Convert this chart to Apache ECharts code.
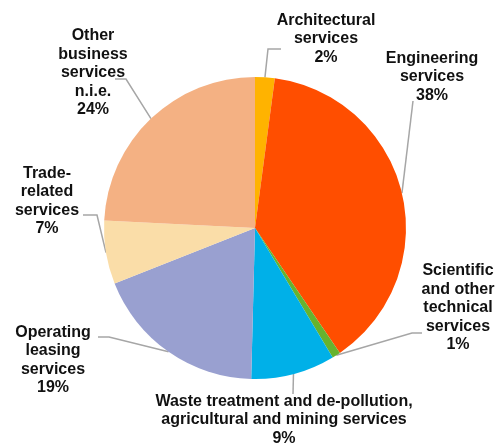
<!DOCTYPE html>
<html>
<head>
<meta charset="utf-8">
<script src="https://cdn.jsdelivr.net/npm/echarts@6/dist/echarts.min.js"></script>
<style>html,body{margin:0;padding:0;background:#fff}#c{width:501px;height:443px}</style>
</head>
<body>
<div id="c"></div>
<script>
const categories = [
  "Architectural\nservices",
  "Engineering\nservices",
  "Scientific\nand other\ntechnical\nservices",
  "Waste treatment and de-pollution,\nagricultural and mining services",
  "Operating\nleasing\nservices",
  "Trade-\nrelated\nservices",
  "Other\nbusiness\nservices\nn.i.e."
];
const values = [2.1, 38.4, 0.9, 9.0, 18.6, 6.8, 24.2];
const colors = ["#FFB300", "#FF4E00", "#66B32E", "#00B0E8", "#99A0D0", "#FADDA8", "#F4B183"];
// layout only: label block centres, leader anchor offsets from centre, elbow length
const labelPos = [[326, 39], [432, 77], [458, 308], [284, 420], [53, 360], [47, 201], [93, 73]];
const anchorOff = [[-45, 10], [-19, 24], [-36, 25], [9, -26], [45, -23], [36, 14], [22, 6]];
const elbow = [-13, 0, -10, 0, 11, 14, 11];

const chart = echarts.init(document.getElementById('c'), null, {renderer: 'canvas'});
chart.setOption({
  animation: false,
  series: [{
    type: 'pie',
    center: [255, 228],
    radius: 151,
    startAngle: 90,
    clockwise: true,
    percentPrecision: 0,
    data: categories.map((n, i) => ({name: n, value: values[i], itemStyle: {color: colors[i]}})),
    label: {
      show: true,
      formatter: '{b}\n{d}%',
      fontFamily: 'Liberation Sans, Arial, sans-serif',
      fontWeight: 'bold',
      fontSize: 16,
      lineHeight: 18.5,
      color: '#111',
      align: 'center',
      overflow: 'none'
    },
    labelLine: {
      show: true,
      length: 10,
      length2: 10,
      lineStyle: {color: '#A6A6A6', width: 1.5}
    },
    labelLayout: function (p) {
      const i = p.dataIndex;
      const c = labelPos[i];
      const res = {x: c[0], y: c[1], align: 'center', verticalAlign: 'middle'};
      if (p.labelLinePoints && p.labelLinePoints.length) {
        const p0 = p.labelLinePoints[0];
        const a = [c[0] + anchorOff[i][0], c[1] + anchorOff[i][1]];
        const e = [a[0] + elbow[i], a[1]];
        res.labelLinePoints = [[p0[0], p0[1]], e, a];
      }
      return res;
    },
    emphasis: {disabled: true}
  }]
});
</script>
</body>
</html>
